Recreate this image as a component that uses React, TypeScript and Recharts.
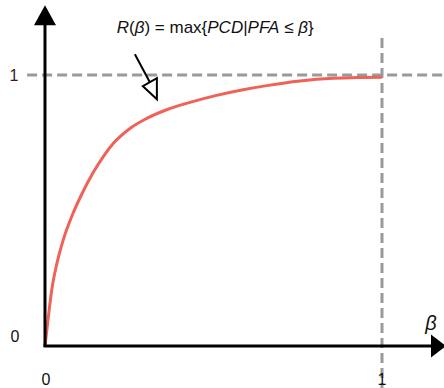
import React from "react";
import { ComposedChart, Line, XAxis, YAxis, ReferenceLine, ReferenceDot } from "recharts";

const betaValues = [0, 0.01, 0.02, 0.035, 0.054, 0.079, 0.109, 0.143, 0.175, 0.203, 0.252, 0.302, 0.361, 0.43, 0.509, 0.58, 0.658, 0.757, 0.855, 0.93, 1.0];
const rValues = [0, 0.108, 0.207, 0.303, 0.391, 0.477, 0.56, 0.64, 0.703, 0.748, 0.803, 0.84, 0.872, 0.899, 0.925, 0.944, 0.961, 0.978, 0.988, 0.991, 0.992];
const xTickLabels = ["0", "1"];
const yTickLabels = ["0", "1"];

const data = betaValues.map((b, i) => ({ beta: b, r: rValues[i] }));

const FONT = "'Liberation Sans', Arial, Helvetica, sans-serif";

const TextShape = (text: React.ReactNode, opts: any) => (props: any) => (
  <text
    x={props.cx}
    y={props.cy}
    fontFamily={FONT}
    fontSize={opts.fontSize ?? 16}
    fill={opts.fill ?? "#111"}
    textAnchor={opts.anchor ?? "middle"}
    dominantBaseline={opts.baseline ?? "central"}
    fontStyle={opts.italic ? "italic" : "normal"}
  >
    {text}
  </text>
);

const UpArrow = (props: any) => {
  const { cx, cy } = props;
  return <polygon points={`${cx},${cy} ${cx - 11},${cy + 20} ${cx + 11},${cy + 20}`} fill="#000" />;
};

const RightArrow = (props: any) => {
  const { cx, cy } = props;
  return <polygon points={`${cx + 2},${cy} ${cx - 13},${cy - 11.5} ${cx - 13},${cy + 11.5}`} fill="#000" />;
};

const Pointer = (props: any) => {
  const { cx, cy } = props;
  return (
    <g>
      <line x1={cx - 22} y1={cy - 45} x2={cx - 7} y2={cy - 17} stroke="#000" strokeWidth={2} />
      <polygon
        points={`${cx},${cy} ${cx - 14},${cy - 13} ${cx},${cy - 21}`}
        fill="#fff"
        stroke="#000"
        strokeWidth={2}
        strokeLinejoin="miter"
      />
    </g>
  );
};

const Formula = (props: any) => (
  <text x={props.cx} y={props.cy} fontFamily={FONT} fontSize={17} fill="#111" textAnchor="start">
    <tspan fontStyle="italic">R</tspan>
    <tspan>(</tspan>
    <tspan fontStyle="italic">β</tspan>
    <tspan>) = max{"{"}</tspan>
    <tspan fontStyle="italic">PCD</tspan>
    <tspan>|</tspan>
    <tspan fontStyle="italic">PFA</tspan>
    <tspan> ≤ </tspan>
    <tspan fontStyle="italic">β</tspan>
    <tspan>{"}"}</tspan>
  </text>
);

export default function App() {
  return (
    <div style={{ position: "absolute", left: 0, top: 0, width: 444, height: 388, background: "#fff" }}>
      <ComposedChart width={444} height={388} data={data} margin={{ top: 0, right: 0, bottom: 0, left: 0 }}>
        <XAxis type="number" dataKey="beta" domain={[-0.1335, 1.184]} allowDataOverflow hide />
        <YAxis type="number" domain={[-0.155, 1.277]} allowDataOverflow hide />
        <ReferenceLine
          segment={[{ x: -0.053, y: 1 }, { x: 1.184, y: 1 }]}
          stroke="#9a9a9a"
          strokeWidth={3}
          strokeDasharray="10 5"
          ifOverflow="visible"
        />
        <ReferenceLine
          segment={[{ x: 1, y: 1.137 }, { x: 1, y: -0.155 }]}
          stroke="#9a9a9a"
          strokeWidth={3}
          strokeDasharray="10 5"
          ifOverflow="visible"
        />
        <Line
          type="monotone"
          dataKey="r"
          stroke="#EF6257"
          strokeWidth={3}
          dot={false}
          activeDot={false}
          isAnimationActive={false}
        />
        <ReferenceLine segment={[{ x: 0, y: -0.004 }, { x: 0, y: 1.2 }]} stroke="#000" strokeWidth={3} ifOverflow="visible" />
        <ReferenceLine segment={[{ x: -0.004, y: 0 }, { x: 1.15, y: 0 }]} stroke="#000" strokeWidth={3} ifOverflow="visible" />
        <ReferenceDot x={0} y={1.258} r={0} shape={UpArrow} ifOverflow="visible" />
        <ReferenceDot x={1.184} y={0} r={0} shape={RightArrow} ifOverflow="visible" />
        <ReferenceDot x={0.332} y={0.911} r={0} shape={Pointer} ifOverflow="visible" />
        <ReferenceDot x={0.213} y={1.154} r={0} shape={Formula} ifOverflow="visible" />
        <ReferenceDot x={1.145} y={0.085} r={0} shape={TextShape("β", { fontSize: 20, italic: true })} ifOverflow="visible" />
        <ReferenceDot x={0.003} y={-0.125} r={0} shape={TextShape(xTickLabels[0], {})} ifOverflow="visible" />
        <ReferenceDot x={1.0} y={-0.125} r={0} shape={TextShape(xTickLabels[1], {})} ifOverflow="visible" />
        <ReferenceDot x={-0.089} y={0.034} r={0} shape={TextShape(yTickLabels[0], {})} ifOverflow="visible" />
        <ReferenceDot x={-0.092} y={1} r={0} shape={TextShape(yTickLabels[1], { fill: "#3a1a1a" })} ifOverflow="visible" />
      </ComposedChart>
    </div>
  );
}
